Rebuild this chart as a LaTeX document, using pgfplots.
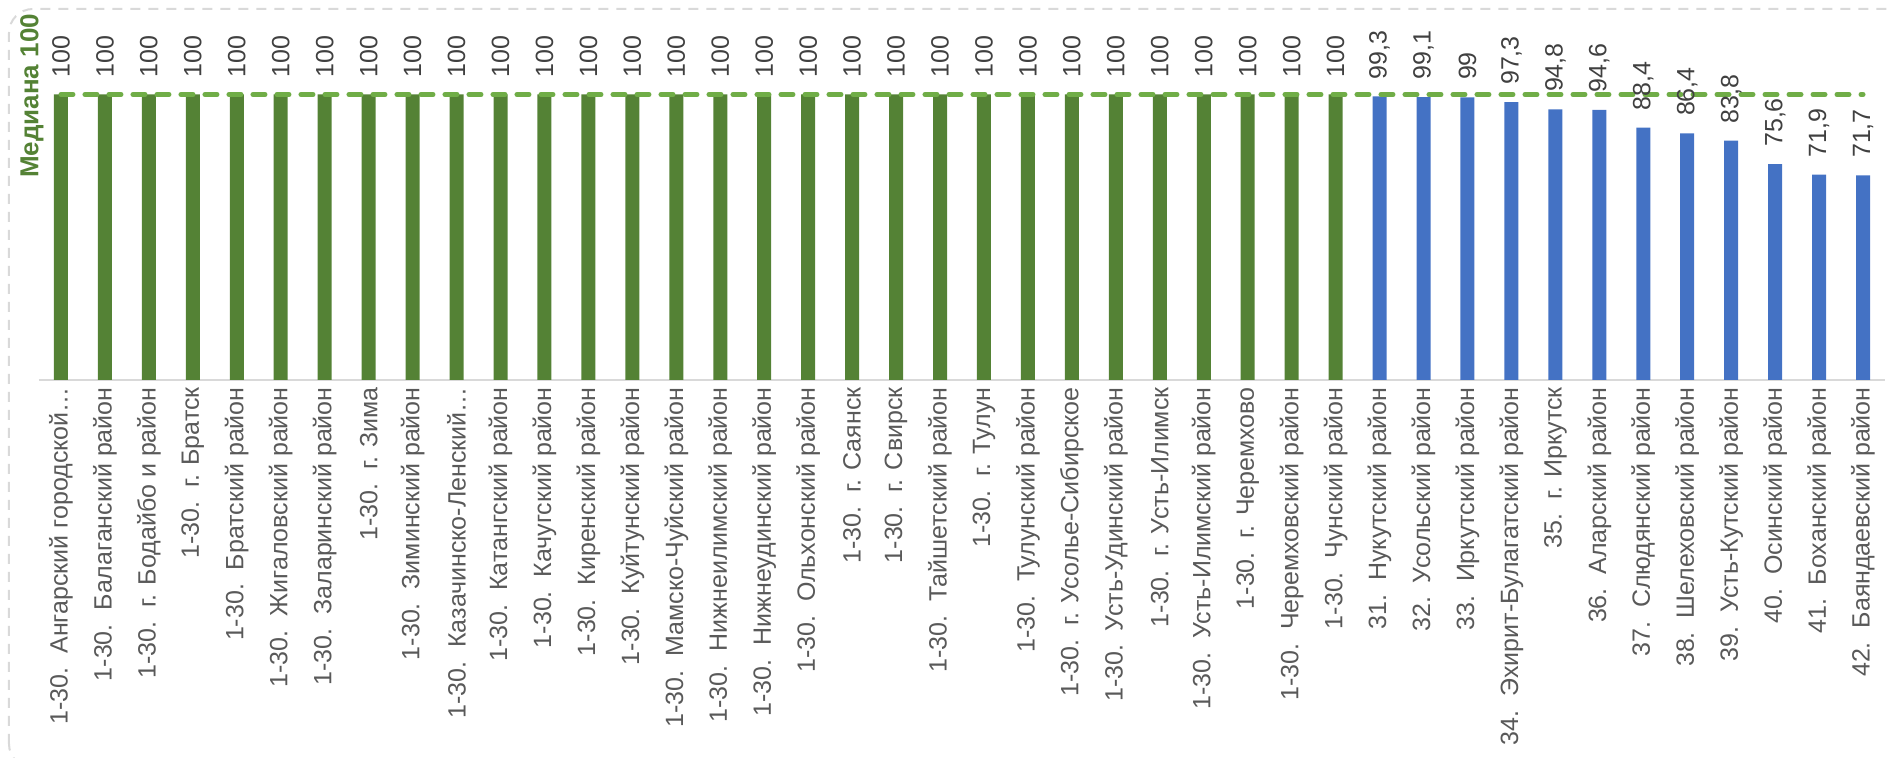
\documentclass[border=0pt]{standalone}
\usepackage{fontspec}
\setmainfont{Liberation Sans}
\usepackage{pgfplots}
\usepackage{pgfplotstable}
\pgfplotsset{compat=1.18}
\definecolor{barGreen}{HTML}{548235}
\definecolor{barBlue}{HTML}{4472C4}
\definecolor{medGreen}{HTML}{70AD47}
\definecolor{lblGray}{HTML}{595959}
\definecolor{valGray}{HTML}{404040}
\definecolor{lineGray}{HTML}{D9D9D9}

\pgfplotstableread{
x y lbl
0 100 100
1 100 100
2 100 100
3 100 100
4 100 100
5 100 100
6 100 100
7 100 100
8 100 100
9 100 100
10 100 100
11 100 100
12 100 100
13 100 100
14 100 100
15 100 100
16 100 100
17 100 100
18 100 100
19 100 100
20 100 100
21 100 100
22 100 100
23 100 100
24 100 100
25 100 100
26 100 100
27 100 100
28 100 100
29 100 100
}\greentab

\pgfplotstableread{
x y lbl
30 99.3 99,3
31 99.1 99,1
32 99 99
33 97.3 97,3
34 94.8 94,8
35 94.6 94,6
36 88.4 88,4
37 86.4 86,4
38 83.8 83,8
39 75.6 75,6
40 71.9 71,9
41 71.7 71,7
}\bluetab

\begin{document}
\begin{tikzpicture}
\begin{scope}
\clip (-19.5pt,-189pt) rectangle (927.5pt,190pt);
\draw[lineGray, line width=1pt, dash pattern=on 5pt off 4pt, rounded corners=12pt]
  (-15pt,-194pt) rectangle (945pt,185.5pt);
\end{scope}
\begin{axis}[
  at={(0pt,0pt)}, anchor=south west,
  width=923pt, height=142.75pt, scale only axis,
  xmin=-0.5, xmax=41.5, ymin=0, ymax=100,
  clip=false,
  axis x line*=bottom, axis y line=none,
  x axis line style={draw=lineGray, line width=1pt},
  ytick=\empty,
  xtick={0,...,41},
  major tick length=0pt,
  xticklabel shift=3.5pt,
  xticklabel style={rotate=90, anchor=east, inner sep=0pt, font=\fontsize{12.5}{14}\selectfont, text=lblGray},
  xticklabels={
    {1-30.~~Ангарский городской…},
    {1-30.~~Балаганский район},
    {1-30.~~г. Бодайбо и район},
    {1-30.~~г. Братск},
    {1-30.~~Братский район},
    {1-30.~~Жигаловский район},
    {1-30.~~Заларинский район},
    {1-30.~~г. Зима},
    {1-30.~~Зиминский район},
    {1-30.~~Казачинско-Ленский…},
    {1-30.~~Катангский район},
    {1-30.~~Качугский район},
    {1-30.~~Киренский район},
    {1-30.~~Куйтунский район},
    {1-30.~~Мамско-Чуйский район},
    {1-30.~~Нижнеилимский район},
    {1-30.~~Нижнеудинский район},
    {1-30.~~Ольхонский район},
    {1-30.~~г. Саянск},
    {1-30.~~г. Свирск},
    {1-30.~~Тайшетский район},
    {1-30.~~г. Тулун},
    {1-30.~~Тулунский район},
    {1-30.~~г. Усолье-Сибирское},
    {1-30.~~Усть-Удинский район},
    {1-30.~~г. Усть-Илимск},
    {1-30.~~Усть-Илимский район},
    {1-30.~~г. Черемхово},
    {1-30.~~Черемховский район},
    {1-30.~~Чунский район},
    {31.~~Нукутский район},
    {32.~~Усольский район},
    {33.~~Иркутский район},
    {34.~~Эхирит-Булагатский район},
    {35.~~г. Иркутск},
    {36.~~Аларский район},
    {37.~~Слюдянский район},
    {38.~~Шелеховский район},
    {39.~~Усть-Кутский район},
    {40.~~Осинский район},
    {41.~~Боханский район},
    {42.~~Баяндаевский район}
  },
]
\addplot[ybar, bar width=7pt, bar shift=0pt, fill=barGreen, draw=none,
  point meta=explicit symbolic, nodes near coords,
  every node near coord/.append style={rotate=90, anchor=west, inner xsep=8.5pt, inner ysep=0pt, font=\fontsize{12.5}{14}\selectfont, text=valGray}]
  table[x=x, y=y, meta=lbl] {\greentab};
\addplot[ybar, bar width=7pt, bar shift=0pt, fill=barBlue, draw=none,
  point meta=explicit symbolic, nodes near coords,
  every node near coord/.append style={rotate=90, anchor=west, inner xsep=8.5pt, inner ysep=0pt, font=\fontsize{12.5}{14}\selectfont, text=valGray}]
  table[x=x, y=y, meta=lbl] {\bluetab};
\addplot[medGreen, line width=2.5pt, dash pattern=on 6pt off 6pt, line cap=round, mark=none]
  coordinates {(0,100) (41,100)};
\node[rotate=90, font=\bfseries\fontsize{13}{15}\selectfont, text=barGreen, inner sep=0pt] at (axis cs:-0.66,99.5) {Медиана 100};
\end{axis}
\pgfresetboundingbox
\useasboundingbox (-19.5pt,-189pt) rectangle (927.5pt,190pt);
\end{tikzpicture}
\end{document}
